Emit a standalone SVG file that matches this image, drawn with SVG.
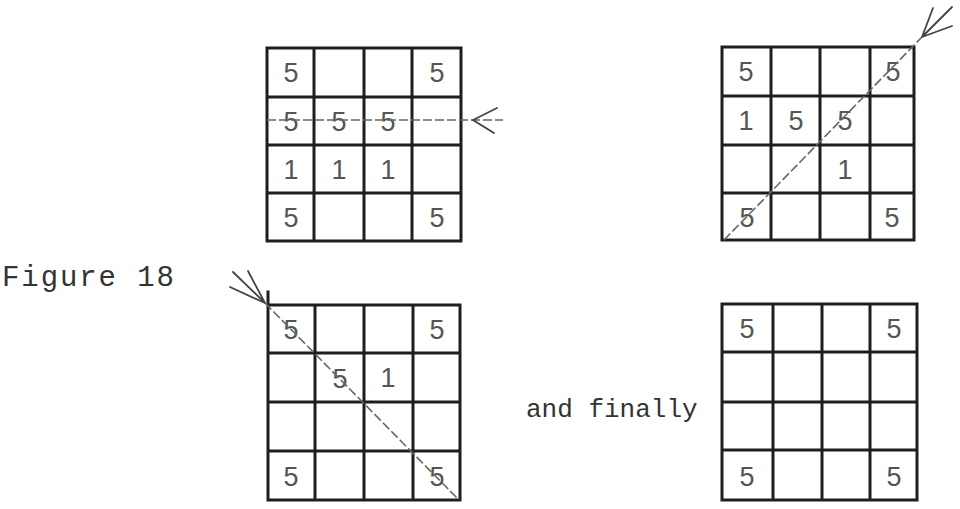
<svg xmlns="http://www.w3.org/2000/svg" width="960" height="509" viewBox="0 0 960 509">
<style>
.g{fill:none;stroke:#1e1e1e;stroke-width:3;stroke-linecap:square}
.d{font-family:"Liberation Sans","DejaVu Sans",sans-serif;font-size:27px;fill:#555;text-anchor:middle}
.t{font-family:"Liberation Mono","Courier New",monospace;font-size:26px;fill:#333}
.c{fill:none;stroke:#666;stroke-width:1.6;stroke-dasharray:9 3}
.a{fill:none;stroke:#444;stroke-width:1.8;stroke-linecap:round}
</style>
<rect width="960" height="509" fill="#fff"/>
<g id="grid1">
<path class="g" d="M267 48H461V241H267Z M314 48V241 M364 48V241 M412 48V241 M267 97H461 M267 145H461 M267 193H461"/>
<text class="d" x="291" y="82">5</text><text class="d" x="437" y="82">5</text>
<text class="d" x="291" y="131">5</text><text class="d" x="339" y="131">5</text><text class="d" x="388" y="131">5</text>
<text class="d" x="291" y="179">1</text><text class="d" x="339" y="179">1</text><text class="d" x="388" y="179">1</text>
<text class="d" x="291" y="227">5</text><text class="d" x="437" y="227">5</text>
</g>
<g id="grid2">
<path class="g" d="M722 47H914V240H722Z M771 47V240 M820 47V240 M870 47V240 M722 96H914 M722 145H914 M722 193H914"/>
<text class="d" x="746" y="81">5</text><text class="d" x="893" y="81">5</text>
<text class="d" x="746" y="130">1</text><text class="d" x="796" y="130">5</text><text class="d" x="845" y="130">5</text>
<text class="d" x="845" y="179">1</text>
<text class="d" x="747" y="227">5</text><text class="d" x="892" y="227">5</text>
</g>
<g id="grid3">
<path class="g" d="M268 305H460V500H268Z M268 292V305 M315 305V500 M364 305V500 M413 305V500 M268 353H460 M268 402H460 M268 451H460"/>
<text class="d" x="291" y="339">5</text><text class="d" x="437" y="339">5</text>
<text class="d" x="340" y="388">5</text><text class="d" x="388" y="387">1</text>
<text class="d" x="291" y="486">5</text><text class="d" x="437" y="486">5</text>
</g>
<g id="grid4">
<path class="g" d="M722 304H917V500H722Z M773 304V500 M822 304V500 M870 304V500 M722 352H917 M722 402H917 M722 450H917"/>
<text class="d" x="747" y="338">5</text><text class="d" x="894" y="338">5</text>
<text class="d" x="747" y="486">5</text><text class="d" x="894" y="486">5</text>
</g>
<g id="labels">
<text class="t" x="2" y="286" style="font-size:29px" textLength="172" lengthAdjust="spacing">Figure 18</text>
<text class="t" x="526" y="417">and finally</text>
</g>
<g id="connectors">
<path class="c" d="M267 120H503"/>
<path class="a" d="M497 108L473 120L494 133"/>
<path class="c" d="M724 240L922 37"/>
<path class="a" d="M922 37L952 7 M922 37L933 8 M922 37L952 26"/>
<path class="c" d="M265 303L459 500"/>
<path class="a" d="M265 303L233 272 M265 303L248 271 M265 303L230 287"/>
</g>
</svg>
